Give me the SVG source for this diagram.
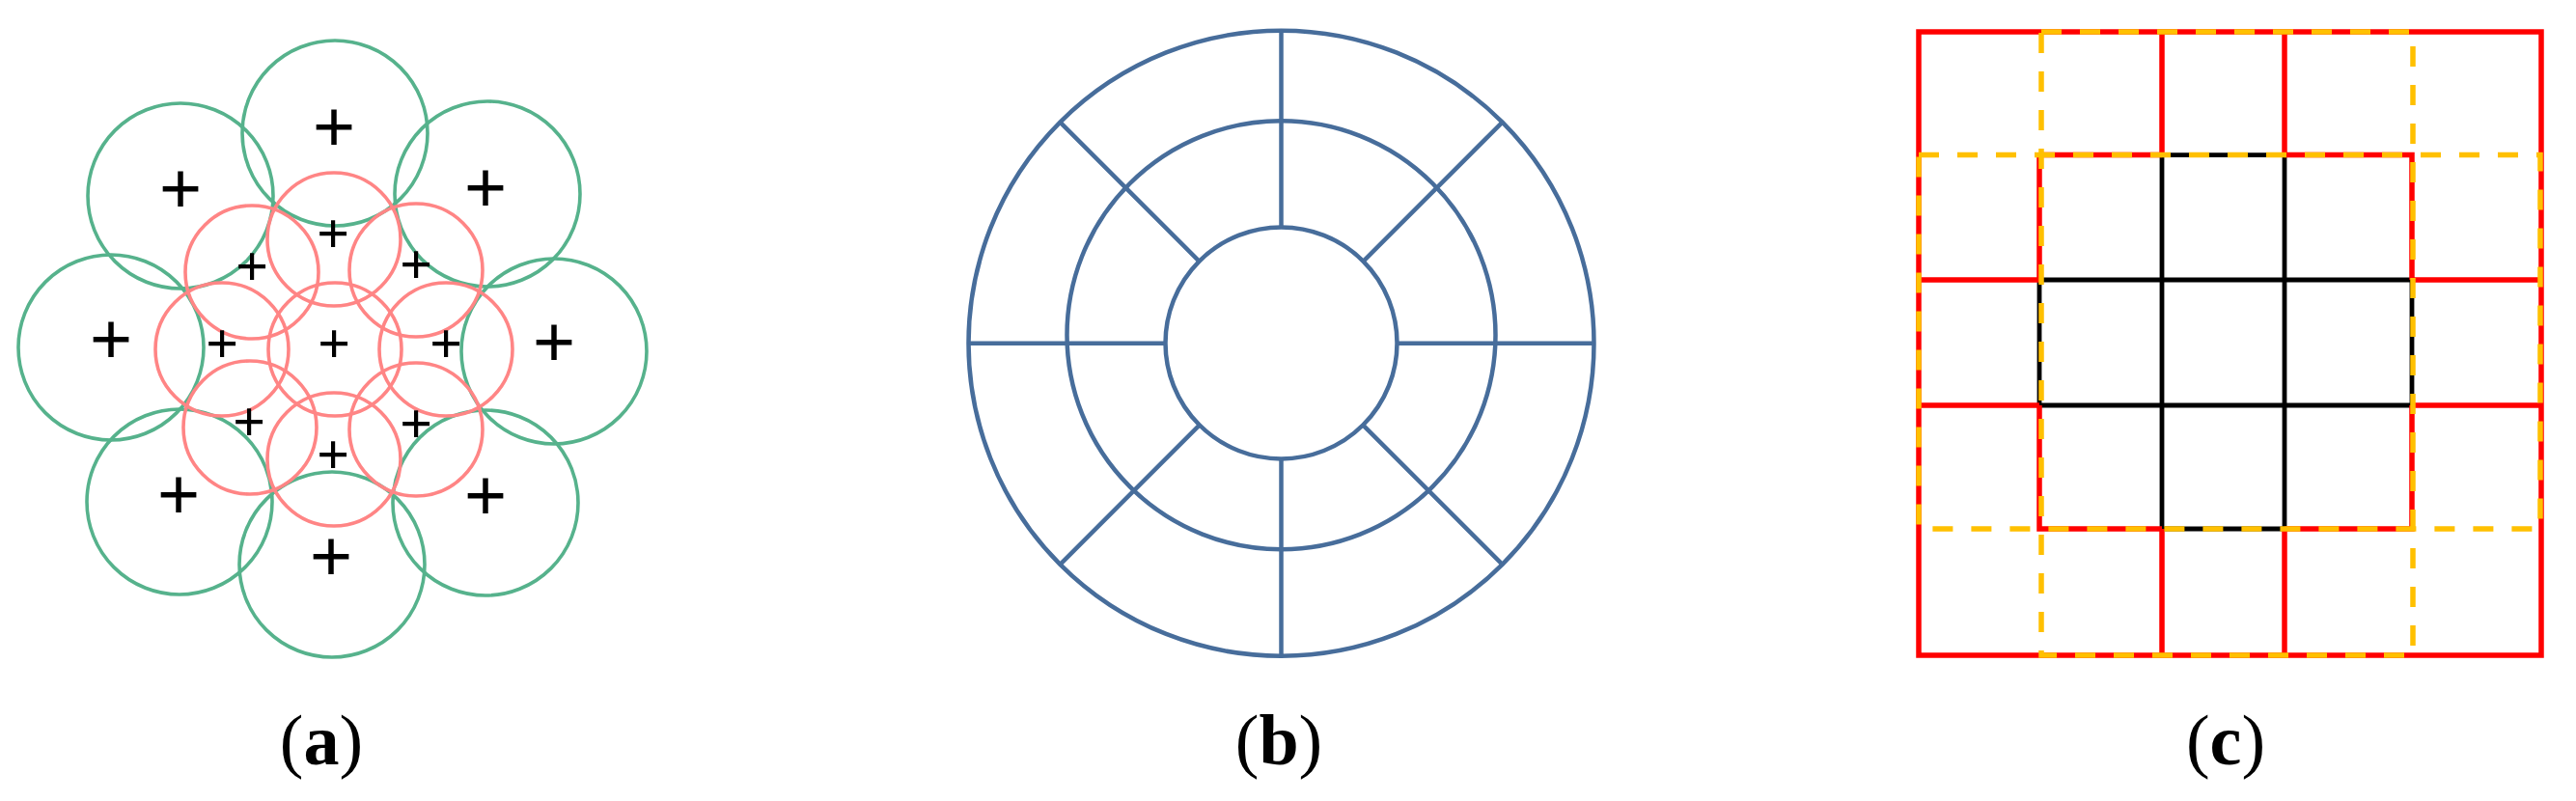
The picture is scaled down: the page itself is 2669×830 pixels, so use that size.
<svg xmlns="http://www.w3.org/2000/svg" width="2669" height="830" viewBox="0 0 2669 830">
<style>
.g{fill:none;stroke:#56b28c;stroke-width:3.6}
.r{fill:none;stroke:#ff8585;stroke-width:3.6}
.pl{font-family:"Liberation Serif","Times New Roman",serif;font-weight:bold;text-anchor:middle;fill:#000}
.big{font-size:79px}
.sm{font-size:60px}
.b{fill:none;stroke:#476d9b;stroke-width:4.5}
.rd{fill:none;stroke:#ff0000;stroke-width:5.5}
.bk{fill:none;stroke:#000;stroke-width:4.8}
.yl{fill:none;stroke:#ffc000;stroke-width:5.5;stroke-dasharray:21 19}
.lab{font-family:"Liberation Serif","Times New Roman",serif;font-size:74px;text-anchor:middle;fill:#000}
</style>
<rect width="2669" height="830" fill="#fff"/>
<g id="panel-a">
<g id="green-circles">
<circle class="g" cx="347" cy="138" r="96"/>
<circle class="g" cx="187" cy="203" r="96"/>
<circle class="g" cx="505" cy="201" r="96"/>
<circle class="g" cx="115" cy="360" r="96"/>
<circle class="g" cx="574" cy="364" r="96"/>
<circle class="g" cx="186" cy="520" r="96"/>
<circle class="g" cx="503" cy="521" r="96"/>
<circle class="g" cx="344" cy="585" r="96"/>
</g>
<g id="red-circles">
<circle class="r" cx="347" cy="362" r="69"/>
<circle class="r" cx="346" cy="248" r="69"/>
<circle class="r" cx="261" cy="282" r="69"/>
<circle class="r" cx="431" cy="280" r="69"/>
<circle class="r" cx="230" cy="362" r="69"/>
<circle class="r" cx="462" cy="362" r="69"/>
<circle class="r" cx="259" cy="443" r="69"/>
<circle class="r" cx="431" cy="445" r="69"/>
<circle class="r" cx="346" cy="476" r="69"/>
</g>
<g id="plus-signs">
<text class="pl big" x="346" y="158">+</text>
<text class="pl big" x="187" y="222">+</text>
<text class="pl big" x="503" y="221">+</text>
<text class="pl big" x="115" y="378">+</text>
<text class="pl big" x="574" y="381">+</text>
<text class="pl big" x="185" y="539">+</text>
<text class="pl big" x="503" y="540">+</text>
<text class="pl big" x="343" y="603">+</text>
<text class="pl sm" x="345" y="262">+</text>
<text class="pl sm" x="261" y="296">+</text>
<text class="pl sm" x="431" y="294">+</text>
<text class="pl sm" x="230" y="376">+</text>
<text class="pl sm" x="346" y="376">+</text>
<text class="pl sm" x="462" y="376">+</text>
<text class="pl sm" x="258" y="457">+</text>
<text class="pl sm" x="431" y="459">+</text>
<text class="pl sm" x="345" y="491">+</text>
</g>
</g>
<g id="panel-b">
<circle class="b" cx="1327.5" cy="355.7" r="324"/>
<circle class="b" cx="1327.5" cy="347.2" r="222"/>
<circle class="b" cx="1327.5" cy="355.4" r="120"/>
<path class="b" d="M1327.5 31.7V235.4M1327.5 475.4V679.7M1003.5 355.7H1207.5M1447.5 355.7H1651.5M1098.4 126.6L1242.6 270.8M1556.6 126.6L1412.4 270.8M1098.4 584.8L1242.6 440.6M1556.6 584.8L1412.4 440.6"/>
</g>
<g id="panel-c">
<path class="bk" d="M2240 160.6V548M2367 160.6V548M2113 290H2499M2113 420H2499M2240 160.6H2367M2240 548H2367M2113 290V420M2499 290V420"/>
<path class="rd" d="M1988 33H2633V679H1988Z"/>
<path class="rd" d="M2113 160.6H2240M2367 160.6H2499V290M2499 420V548H2367M2240 548H2113V420M2113 290V160.6"/>
<path class="rd" d="M2240 33V160.6M2367 33V160.6M2240 548V679M2367 548V679M1988 290H2113M1988 420H2113M2499 290H2633M2499 420H2633"/>
<rect class="yl" x="2115" y="33" width="385" height="646"/>
<rect class="yl" x="1988" y="160.6" width="644" height="387.4"/>
</g>
<g id="labels">
<text class="lab" x="333" y="792">(<tspan font-weight="bold">a</tspan>)</text>
<text class="lab" x="1325" y="792">(<tspan font-weight="bold">b</tspan>)</text>
<text class="lab" x="2306" y="792">(<tspan font-weight="bold">c</tspan>)</text>
</g>
</svg>
